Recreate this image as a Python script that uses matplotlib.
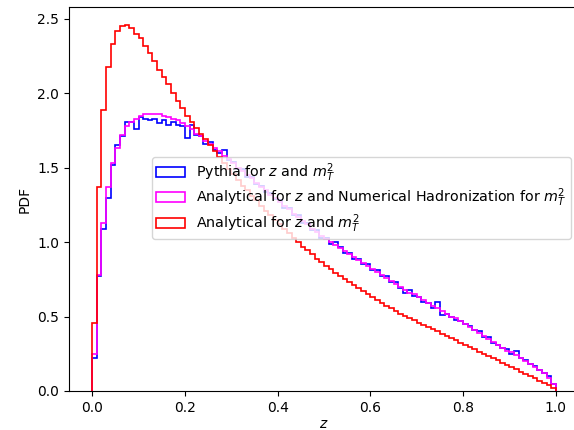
import numpy as np
import matplotlib
matplotlib.use("Agg")
import matplotlib.pyplot as plt

# bin edges: 100 bins of width 0.01 on [0, 1]
edges = np.linspace(0.0, 1.0, 101)

pythia = [
    0.22, 0.77, 1.09, 1.30, 1.52, 1.65, 1.71, 1.81, 1.81, 1.76,
    1.84, 1.83, 1.82, 1.83, 1.80, 1.82, 1.79, 1.81, 1.79, 1.78,
    1.70, 1.79, 1.72, 1.71, 1.66, 1.67, 1.62, 1.60, 1.62, 1.55,
    1.54, 1.49, 1.49, 1.44, 1.44, 1.39, 1.38, 1.34, 1.33, 1.29,
    1.28, 1.23, 1.23, 1.18, 1.18, 1.13, 1.13, 1.08, 1.08, 1.03,
    1.03, 0.99, 1.00, 0.97, 0.93, 0.93, 0.89, 0.89, 0.85, 0.85,
    0.81, 0.81, 0.77, 0.77, 0.73, 0.73, 0.69, 0.66, 0.68, 0.64,
    0.63, 0.60, 0.59, 0.56, 0.60, 0.51, 0.52, 0.50, 0.48, 0.47,
    0.45, 0.44, 0.41, 0.40, 0.36, 0.36, 0.32, 0.31, 0.29, 0.28,
    0.25, 0.27, 0.22, 0.21, 0.18, 0.17, 0.14, 0.12, 0.10, 0.05,
]

analytic_numerical = [
    0.25, 0.78, 1.13, 1.37, 1.53, 1.63, 1.72, 1.78, 1.81, 1.83,
    1.85, 1.86, 1.86, 1.86, 1.86, 1.85, 1.84, 1.83, 1.82, 1.80,
    1.78, 1.76, 1.73, 1.71, 1.68, 1.66, 1.63, 1.61, 1.58, 1.56,
    1.53, 1.50, 1.48, 1.45, 1.43, 1.40, 1.37, 1.35, 1.32, 1.30,
    1.27, 1.24, 1.22, 1.19, 1.17, 1.14, 1.12, 1.09, 1.07, 1.04,
    1.02, 1.00, 0.98, 0.96, 0.94, 0.92, 0.90, 0.88, 0.86, 0.84,
    0.82, 0.80, 0.78, 0.76, 0.74, 0.72, 0.70, 0.68, 0.66, 0.65,
    0.63, 0.61, 0.59, 0.57, 0.56, 0.54, 0.52, 0.50, 0.49, 0.47,
    0.45, 0.43, 0.41, 0.39, 0.37, 0.35, 0.33, 0.31, 0.29, 0.27,
    0.26, 0.24, 0.22, 0.20, 0.18, 0.16, 0.14, 0.12, 0.09, 0.05,
]

analytic = [
    0.46, 1.37, 1.89, 2.18, 2.33, 2.42, 2.45, 2.46, 2.44, 2.40,
    2.37, 2.32, 2.27, 2.22, 2.16, 2.11, 2.06, 2.00, 1.95, 1.90,
    1.85, 1.81, 1.77, 1.73, 1.69, 1.65, 1.61, 1.57, 1.53, 1.49,
    1.46, 1.42, 1.38, 1.35, 1.31, 1.28, 1.24, 1.21, 1.18, 1.15,
    1.12, 1.09, 1.06, 1.03, 1.00, 0.97, 0.95, 0.92, 0.89, 0.87,
    0.84, 0.82, 0.79, 0.77, 0.75, 0.73, 0.71, 0.69, 0.67, 0.65,
    0.63, 0.61, 0.59, 0.57, 0.555, 0.54, 0.52, 0.505, 0.49, 0.475,
    0.46, 0.445, 0.43, 0.415, 0.40, 0.385, 0.37, 0.355, 0.34, 0.325,
    0.31, 0.295, 0.28, 0.265, 0.25, 0.235, 0.22, 0.205, 0.19, 0.175,
    0.16, 0.145, 0.13, 0.115, 0.10, 0.085, 0.07, 0.055, 0.04, 0.02,
]

labels = [
    r"Pythia for $z$ and $m_T^2$",
    r"Analytical for $z$ and Numerical Hadronization for $m_T^2$",
    r"Analytical for $z$ and $m_T^2$",
]
colors = ["blue", "magenta", "red"]


def main():
    fig = plt.figure(figsize=(5.74, 4.30), dpi=100)
    # axes run past the right edge of the canvas, as in the cropped original
    ax = fig.add_axes([69 / 574, 39 / 430, 510 / 574, 384 / 430])

    centers = edges[:-1] + 0.005
    for vals, lab, col in zip([pythia, analytic_numerical, analytic], labels, colors):
        ax.hist(centers, bins=edges, weights=vals, histtype="step",
                color=col, label=lab, linewidth=1.2)

    ax.set_xlim(-0.05, 1.05)
    ax.set_ylim(0, 2.58)
    ax.spines["right"].set_visible(False)
    ax.set_xlabel(r"$z$", labelpad=2)
    ax.set_ylabel("PDF")
    ax.legend(loc="center right", fontsize=10.3, labelspacing=0.2,
              borderpad=0.3, bbox_to_anchor=(0.998, 0.503))

    fig.savefig("out.png", dpi=100)


main()
